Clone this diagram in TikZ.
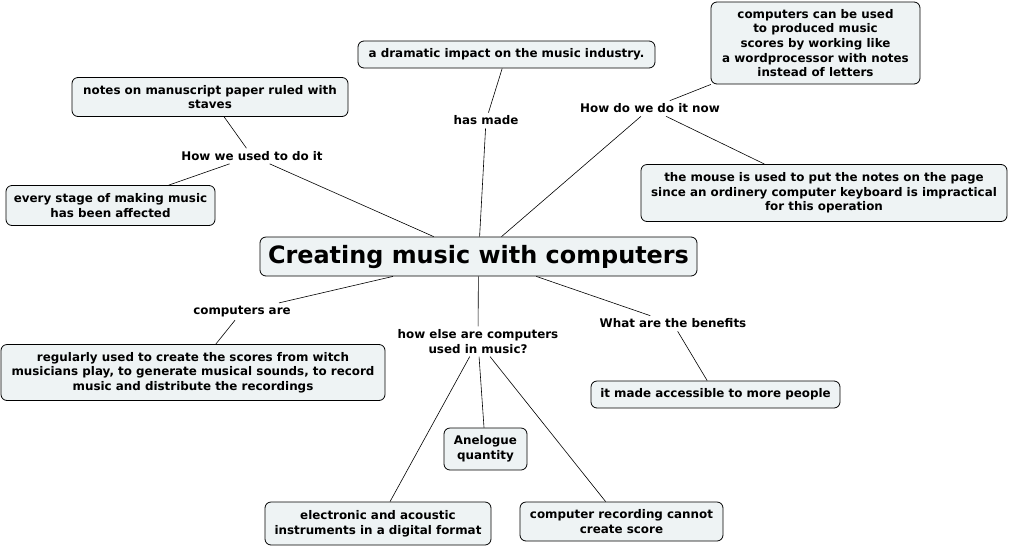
\documentclass[tikz,border=0pt]{standalone}
\usepackage{fontspec}
\setmainfont{DejaVu Sans}
\definecolor{boxfill}{HTML}{EEF3F4}
\tikzset{
  box/.style={draw=black, fill=boxfill, rounded corners=6pt, line width=0.8pt, align=center,
    font=\bfseries\fontsize{11.9}{14.6}\selectfont, inner xsep=4pt, inner ysep=4pt},
  lbl/.style={align=center, font=\bfseries\fontsize{11.9}{14.6}\selectfont, inner sep=3pt},
  link/.style={draw=black, line width=0.6pt}
}
\begin{document}
\begin{tikzpicture}[x=1pt,y=-1pt]
\useasboundingbox (0,0) rectangle (1010,547);
\node[box, font=\bfseries\fontsize{23.9}{26}\selectfont, minimum width=437pt, minimum height=39pt, inner ysep=2pt] (title) at (478.5,256.5) {Creating music with computers};

\node[box, minimum width=297pt, minimum height=27pt] (dramatic) at (506.5,54.5) {a dramatic impact on the music industry.};
\node[box, minimum width=209pt, minimum height=82pt] (wp) at (815.5,43) {computers can be used\\to produced music\\scores by working like\\a wordprocessor with notes\\instead of letters};
\node[box, minimum width=276pt, minimum height=39pt] (notes) at (210,97) {notes on manuscript paper ruled with\\staves};
\node[box, minimum width=209pt, minimum height=40pt] (stage) at (110.5,205.5) {every stage of making music\\has been affected};
\node[box, minimum width=366pt, minimum height=57pt] (mouse) at (824,193) {the mouse is used to put the notes on the page\\since an ordinery computer keyboard is impractical\\for this operation};
\node[box, minimum width=384pt, minimum height=56pt] (regular) at (193,372.5) {regularly used to create the scores from witch\\musicians play, to generate musical sounds, to record\\music and distribute the recordings};
\node[box, minimum width=249pt, minimum height=27pt] (access) at (715.5,394.5) {it made accessible to more people};
\node[box, minimum width=83pt, minimum height=42pt] (analog) at (485.5,449) {Anelogue\\quantity};
\node[box, minimum width=226pt, minimum height=43pt] (elec) at (378,523.5) {electronic and acoustic\\instruments in a digital format};
\node[box, minimum width=203pt, minimum height=39pt] (rec) at (621.5,521.5) {computer recording cannot\\create score};

\node[lbl] (used) at (252,156) {How we used to do it};
\node[lbl] (hasmade) at (486,120.5) {has made};
\node[lbl] (now) at (650,108.5) {How do we do it now};
\node[lbl] (compare) at (242,311.5) {computers are};
\node[lbl] (howelse) at (478,341.5) {how else are computers\\used in music?};
\node[lbl] (benefits) at (673,323.5) {What are the benefits};

\draw[link] (title) -- (used);
\draw[link] (used) -- (notes);
\draw[link] (used) -- (stage);
\draw[link] (title) -- (hasmade);
\draw[link] (hasmade) -- (dramatic);
\draw[link] (title) -- (now);
\draw[link] (now) -- (wp);
\draw[link] (now) -- (mouse);
\draw[link] (title) -- (compare);
\draw[link] (compare) -- (regular);
\draw[link] (title) -- (howelse);
\draw[link] (howelse) -- (analog);
\draw[link] (howelse) -- (elec);
\draw[link] (howelse) -- (rec);
\draw[link] (title) -- (benefits);
\draw[link] (benefits) -- (access);
\end{tikzpicture}
\end{document}
